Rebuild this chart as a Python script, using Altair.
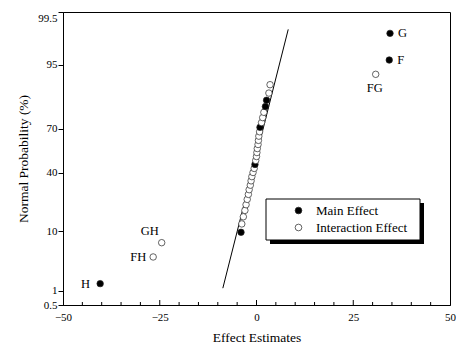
import altair as alt
import pandas as pd
from statistics import NormalDist

# ---- data ----
effects = [-40.4, -26.7, -24.5, -4.0, -3.8, -3.4, -3.0, -2.7, -2.4, -2.1, -1.9, -1.6,
           -1.4, -1.2, -0.9, -0.6, -0.4, -0.2, 0.0, 0.1, 0.2, 0.4, 0.5, 0.6,
           0.8, 0.9, 1.3, 1.6, 1.9, 2.3, 2.6, 3.2, 3.5, 30.8, 34.3, 34.5]
probabilities = [1.39, 4.17, 6.94, 9.72, 12.50, 15.28, 18.06, 20.83, 23.61, 26.39, 29.17, 31.94,
                 34.72, 37.50, 40.28, 43.06, 45.83, 48.61, 51.39, 54.17, 56.94, 59.72, 62.50, 65.28,
                 68.06, 70.83, 73.61, 76.39, 79.17, 81.94, 84.72, 87.50, 90.28, 93.06, 95.83, 98.61]
M, I = "Main Effect", "Interaction Effect"
effect_types = [M, I, I, M, I, I, I, I, I, I, I, I,
                I, I, I, I, M, I, I, I, I, I, I, I,
                I, M, I, I, I, M, M, I, I, I, M, M]
point_labels = ["H", "FH", "GH", "", "", "", "", "", "", "", "", "",
                "", "", "", "", "", "", "", "", "", "", "", "",
                "", "", "", "", "", "", "", "", "", "FG", "F", "G"]

line_x = [-8.7, 8.2]
line_p = [1.13, 98.84]

y_tick_pct = [0.5, 1, 10, 40, 70, 95, 99.5]
y_tick_labels = ["0.5", "1", "10", "40", "70", "95", "99.5"]
x_major = [-50, -25, 0, 25, 50]
x_minor = [-45, -40, -35, -30, -20, -15, -10, -5, 5, 10, 15, 20, 30, 35, 40, 45]

# ---- build tables ----
nd = NormalDist()
df = pd.DataFrame({
    "effect": effects,
    "z": [nd.inv_cdf(p / 100) for p in probabilities],
    "type": effect_types,
    "label": point_labels,
})
line_df = pd.DataFrame({"effect": line_x, "z": [nd.inv_cdf(p / 100) for p in line_p]})
zt = [nd.inv_cdf(p / 100) for p in y_tick_pct]

expr = f"'{y_tick_labels[-1]}'"
for i in range(len(zt) - 2, -1, -1):
    mid = (zt[i] + zt[i + 1]) / 2
    expr = f"datum.value < {mid:.4f} ? '{y_tick_labels[i]}' : {expr}"

FONT = "Liberation Serif"
xscale = alt.Scale(domain=[-50, 50], nice=False, zero=False)
yscale = alt.Scale(domain=[zt[0], zt[-1]], nice=False, zero=False)

X = alt.X("effect:Q", scale=xscale,
          axis=alt.Axis(values=x_major, ticks=False, labelPadding=6, labelFontSize=11,
                        title="Effect  Estimates", titleFontSize=13.5, titlePadding=8,
                        labelFlush=False, labelOverlap=False, grid=False))
Y = alt.Y("z:Q", scale=yscale,
          axis=alt.Axis(values=zt, labelExpr=expr, tickSize=5, labelPadding=1, labelFontSize=11,
                        labelBaseline={"condition": {"test": f"datum.value > {zt[-2] + 0.5:.3f}",
                                                     "value": "top"}, "value": "middle"},
                        title="Normal  Probability  (%)", titleFontSize=13.5, titlePadding=7,
                        labelFlush=False, labelOverlap=False, grid=False))

one = pd.DataFrame({"k": [0]})
shadow = alt.Chart(one).mark_rect(color="black").encode(
    x=alt.value(207), x2=alt.value(361), y=alt.value(191), y2=alt.value(232))
box = alt.Chart(one).mark_rect(fill="white", stroke="black", strokeWidth=1).encode(
    x=alt.value(203), x2=alt.value(357), y=alt.value(187), y2=alt.value(228))

line = alt.Chart(line_df).mark_line(color="black", strokeWidth=1).encode(x=X, y=Y)

points = alt.Chart(df).mark_point(shape="circle", filled=True, size=42, stroke="#222",
                                  strokeWidth=0.7, opacity=1, fillOpacity=1).encode(
    x=X, y=Y,
    fill=alt.Fill("type:N", scale=alt.Scale(domain=[M, I], range=["black", "white"]),
                  legend=alt.Legend(title=None, orient="none", legendX=229, legendY=192,
                                    padding=0, symbolOffset=0, labelOffset=11, rowPadding=3,
                                    labelFont=FONT, labelFontSize=13, labelColor="black",
                                    symbolSize=45, symbolStrokeColor="#222",
                                    symbolStrokeWidth=0.7, symbolType="circle")))

label_style = {
    "G": dict(dx=8, dy=0, align="left"),
    "F": dict(dx=8, dy=0, align="left"),
    "FG": dict(dx=-1, dy=14, align="center"),
    "GH": dict(dx=-12, dy=-12, align="center"),
    "FH": dict(dx=-7, dy=0, align="right"),
    "H": dict(dx=-10, dy=0, align="right"),
}
texts = []
for name, st in label_style.items():
    texts.append(alt.Chart(df).transform_filter(alt.datum.label == name).mark_text(
        font=FONT, fontSize=12.5, color="black", baseline="middle", **st).encode(
        x=X, y=Y, text="label:N"))

ticks_df_major = pd.DataFrame({"effect": x_major[1:-1]})
ticks_df_minor = pd.DataFrame({"effect": x_minor})
major_ticks = alt.Chart(ticks_df_major).mark_rule(color="black", strokeWidth=1).encode(
    x=X, y=alt.value(293), y2=alt.value(288))
minor_ticks = alt.Chart(ticks_df_minor).mark_rule(color="black", strokeWidth=1).encode(
    x=X, y=alt.value(293), y2=alt.value(290))

chart = alt.layer(shadow, box, line, points, *texts, major_ticks, minor_ticks).properties(
    width=387, height=293,
    autosize=alt.AutoSizeParams(type="none"),
    padding={"left": 55, "top": 4, "right": 6, "bottom": 40},
).configure_axis(
    labelFont=FONT, titleFont=FONT, labelColor="black", titleColor="black",
    domainColor="black", tickColor="black", titleFontWeight="normal", domainWidth=1,
).configure_view(stroke="black", strokeWidth=1)

chart.save("out.html", embed_options={"renderer": "svg", "actions": False})
